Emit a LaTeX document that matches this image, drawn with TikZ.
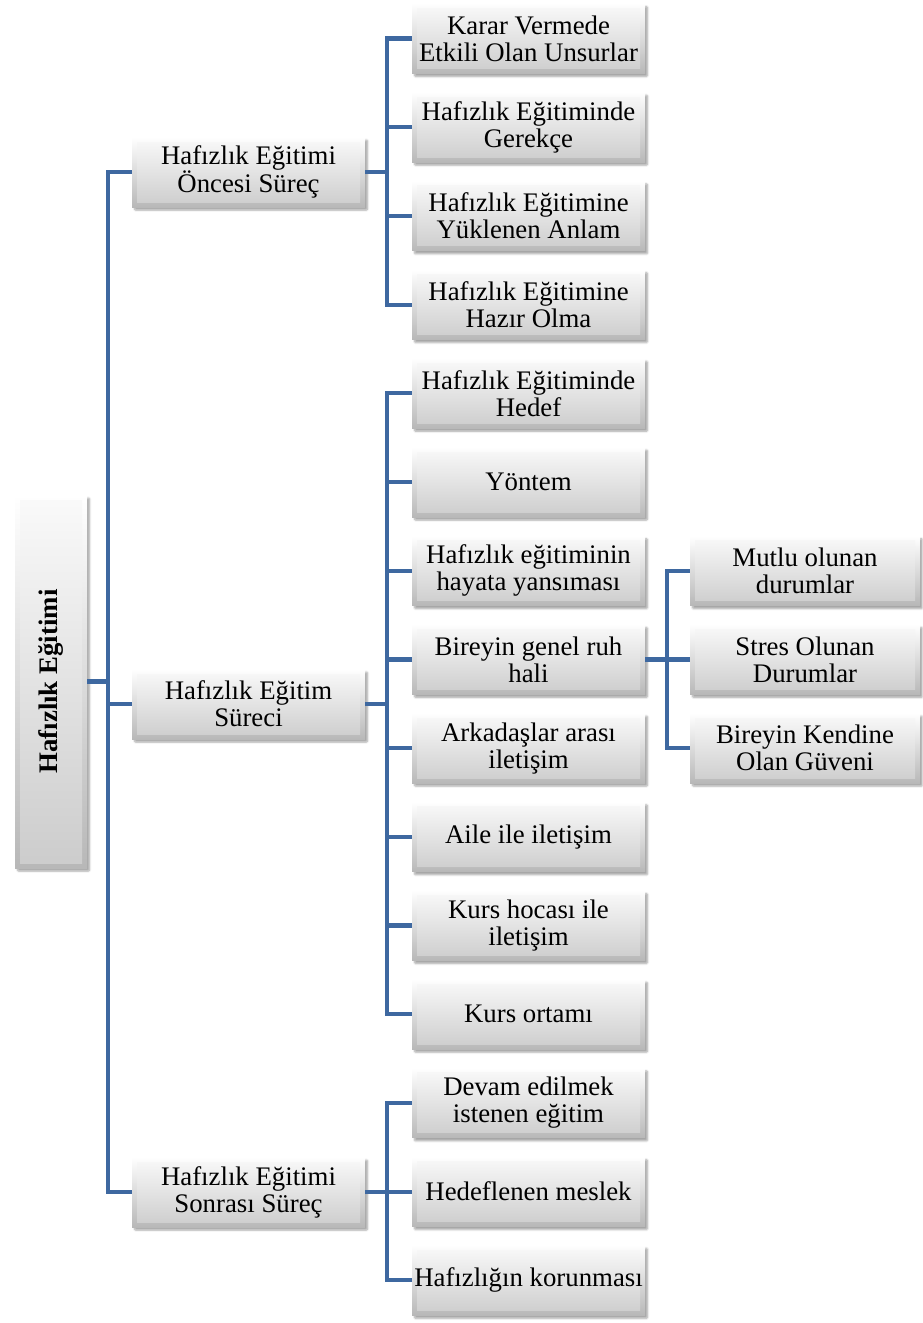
\documentclass[tikz,border=0pt]{standalone}
\usepackage{fontspec}
\setmainfont{Liberation Serif}
\usetikzlibrary{shadows.blur}
\definecolor{conncol}{RGB}{62,104,160}
\tikzset{
  bevelbox/.style={
    minimum width=233pt, minimum height=70pt, inner sep=0pt,
    align=center, font=\fontsize{26.8}{27}\selectfont,
    top color=white, bottom color=black!28,
    blur shadow={shadow xshift=2.5pt, shadow yshift=-3pt, shadow opacity=35, shadow blur steps=6, shadow blur extra rounding=1pt},
    path picture={
      \shade[top color=black!2, bottom color=black!20]
        ([shift={(5pt,-5pt)}]path picture bounding box.north west)
        rectangle ([shift={(-5pt,5pt)}]path picture bounding box.south east);
    }
  },
  conn/.style={draw=conncol, line width=4.2pt, line join=miter}
}
\begin{document}
\begin{tikzpicture}[x=1pt,y=-1pt]
\useasboundingbox (0,0) rectangle (923,1323);
% root
\node[bevelbox, minimum width=72pt, minimum height=373pt] (root) at (51,681.5)
  {\rotatebox{90}{\bfseries Hafızlık Eğitimi}};
% level 1
\node[bevelbox] (p1) at (248.5,172) {Hafızlık Eğitimi\\Öncesi Süreç};
\node[bevelbox] (p2) at (248.5,704) {Hafızlık Eğitim\\Süreci};
\node[bevelbox] (p3) at (248.5,1192) {Hafızlık Eğitimi\\Sonrası Süreç};
% level 2
\node[bevelbox] (a1) at (528.5,38.5) {Karar Vermede\\Etkili Olan Unsurlar};
\node[bevelbox] (a2) at (528.5,127.2) {Hafızlık Eğitiminde\\Gerekçe};
\node[bevelbox] (a3) at (528.5,215.9) {Hafızlık Eğitimine\\Yüklenen Anlam};
\node[bevelbox] (a4) at (528.5,304.6) {Hafızlık Eğitimine\\Hazır Olma};
\node[bevelbox] (b1) at (528.5,393.3) {Hafızlık Eğitiminde\\Hedef};
\node[bevelbox] (b2) at (528.5,482) {Yöntem};
\node[bevelbox] (b3) at (528.5,570.7) {Hafızlık eğitiminin\\hayata yansıması};
\node[bevelbox] (b4) at (528.5,659.4) {Bireyin genel ruh\\hali};
\node[bevelbox] (b5) at (528.5,748.1) {Arkadaşlar arası\\iletişim};
\node[bevelbox] (b6) at (528.5,836.8) {Aile ile iletişim};
\node[bevelbox] (b7) at (528.5,925.5) {Kurs hocası ile\\iletişim};
\node[bevelbox] (b8) at (528.5,1014.2) {Kurs ortamı};
\node[bevelbox] (c1) at (528.5,1102.9) {Devam edilmek\\istenen eğitim};
\node[bevelbox] (c2) at (528.5,1191.6) {Hedeflenen meslek};
\node[bevelbox] (c3) at (528.5,1280.3) {Hafızlığın korunması};
% level 3
\node[bevelbox, minimum width=230pt] (d1) at (805,570.7) {Mutlu olunan\\durumlar};
\node[bevelbox, minimum width=230pt] (d2) at (805,659.4) {Stres Olunan\\Durumlar};
\node[bevelbox, minimum width=230pt] (d3) at (805,748.1) {Bireyin Kendine\\Olan Güveni};
% connectors
\draw[conn] (root.east) -- ++(21,0);
\draw[conn] (p1.west) -- ++(-24,0) |- (p3.west);
\draw[conn] (p2.west) -- ++(-24,0);
\draw[conn] (p1.east) -- ++(22,0);
\draw[conn] (a1.west) -- ++(-25,0) |- (a4.west);
\draw[conn] (a2.west) -- ++(-25,0);
\draw[conn] (a3.west) -- ++(-25,0);
\draw[conn] (p2.east) -- ++(22,0);
\draw[conn] (b1.west) -- ++(-25,0) |- (b8.west);
\foreach \n in {b2,b3,b4,b5,b6,b7} \draw[conn] (\n.west) -- ++(-25,0);
\draw[conn] (p3.east) -- ++(22,0);
\draw[conn] (c1.west) -- ++(-25,0) |- (c3.west);
\draw[conn] (c2.west) -- ++(-25,0);
\draw[conn] (b4.east) -- ++(22,0);
\draw[conn] (d1.west) -- ++(-23,0) |- (d3.west);
\draw[conn] (d2.west) -- ++(-23,0);
\end{tikzpicture}
\end{document}
